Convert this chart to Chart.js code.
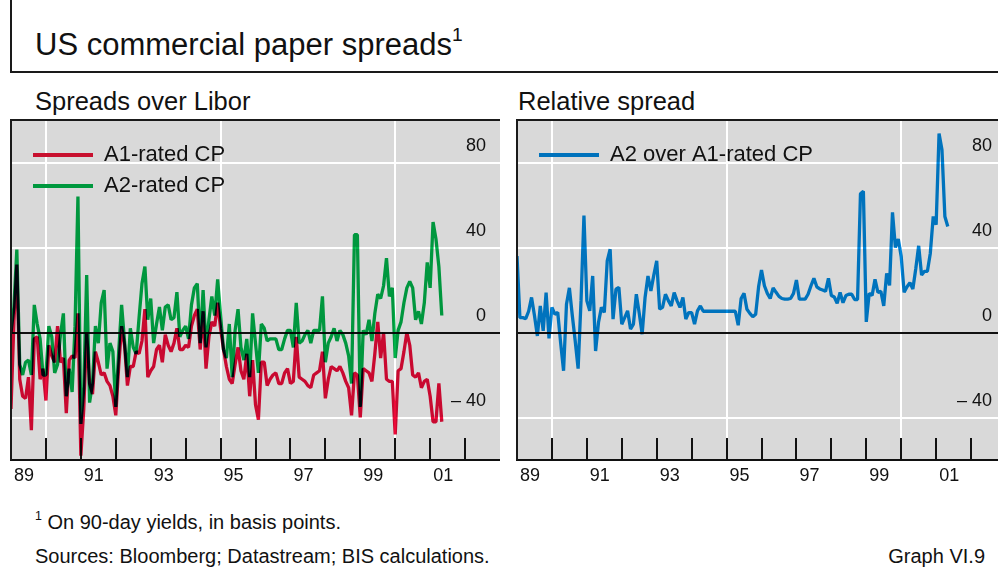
<!DOCTYPE html>
<html lang="en">
<head>
<meta charset="utf-8">
<title>US commercial paper spreads</title>
<script src="https://cdn.jsdelivr.net/npm/chart.js@4.4.1/dist/chart.umd.min.js"></script>
<style>
  html, body { margin: 0; padding: 0; background: #fff; }
  body { position: relative; width: 998px; height: 572px; overflow: hidden;
         font-family: "Liberation Sans", Arial, sans-serif; color: #111; }
  .txt { position: absolute; white-space: nowrap; line-height: 1; }
  .rule { position: absolute; background: #1a1a1a; }
  canvas { position: absolute; }
  sup { font-size: 62%; vertical-align: 0; position: relative; top: -0.75em; }
</style>
</head>
<body>
<div class="rule" style="left:10px;top:0;width:2px;height:73px"></div>
<div class="rule" style="left:10px;top:71px;width:988px;height:2px"></div>
<div class="txt" style="left:35px;top:29px;font-size:31px">US commercial paper spreads<sup>1</sup></div>
<div class="txt" style="left:35px;top:89px;font-size:25.5px">Spreads over Libor</div>
<div class="txt" style="left:518px;top:89px;font-size:25.5px">Relative spread</div>
<canvas id="spreads" width="490" height="371" style="left:10px;top:119px"></canvas>
<canvas id="relative" width="490" height="371" style="left:516px;top:119px"></canvas>
<div class="txt" style="left:35px;top:512px;font-size:20px"><sup>1</sup> On 90-day yields, in basis points.</div>
<div class="txt" style="left:35px;top:546px;font-size:20px">Sources: Bloomberg; Datastream; BIS calculations.</div>
<div class="txt" style="right:13px;top:546px;font-size:20px">Graph VI.9</div>

<script>
// Monthly observations, January 1989 to May 2001, basis points
const a1RatedCP = [
  -36, 5, 32, -22, -30, -31, -21, -46, -3, -2,
  -22, -17, -32, -6, -11, -14, 3, -14, -12, -38,
  -13, -11, -12, 9, -58, -36, 0, -24, -29, -9,
  -14, -20, -19, -23, -25, -30, -39, -16, 3, -6,
  -25, -16, -16, -9, -10, -4, 11, -21, -18, -16,
  -8, -6, -14, -1, -6, -9, -5, 2, -8, -8,
  -6, -7, 3, 8, 11, -8, 10, -17, -2, 5,
  3, 14, 2, -8, -16, -22, -24, -15, -7, -18,
  -22, -10, -30, -13, -34, -41, -14, -14, -25, -22,
  -20, -19, -24, -24, -19, -17, -24, -23, -2, -21,
  -22, -23, -25, -26, -20, -19, -18, -9, -31, -22,
  -16, -17, -18, -16, -19, -23, -26, -39, -19, -20,
  -40, -17, -18, -19, -23, -10, 5, -12, 0, -22,
  -23, -23, -48, -18, -17, -9, 0, -6, -20, -21,
  -19, -26, -23, -22, -30, -42, -42, -24, -42
];
const a2RatedCP = [
  0, 12, 39, -15, -20, -14, -13, -20, 13, 4,
  -3, -20, -20, 3, -2, -19, -15, -1, 9, -30,
  -17, -28, 3, 64, -43, -26, 27, -33, -24, 3,
  -5, 14, 20, -17, -5, -9, -35, -9, 13, -4,
  -21, 2, -7, -10, 7, 23, 31, 6, 16, -5,
  4, 12, 1, 12, 13, 6, 7, 19, -2, 1,
  3, -3, 13, 21, 23, -5, 20, -7, 6, 17,
  8, 25, 8, -8, -12, 4, -21, 1, 11, -7,
  -13, -3, -21, 9, -5, -19, 4, 2, -4, -3,
  -3, -3, -8, -8, -3, 1, 1, -7, 14, -5,
  -4, -1, 1, -5, 1, 1, 1, 17, -14, -5,
  -2, 2, -4, 1, -1, -5, -11, -24, 46, 46,
  -35, 1, -1, 6, -4, 9, 18, 16, 22, 35,
  17, 21, -12, 1, 5, 14, 21, 24, 21, 6,
  10, 4, 14, 33, 21, 52, 44, 31, 8
];
const a2OverA1 = [
  36, 7, 7, 6.5, 10, 16.5, 8, -1.6, 12.5, 0.8,
  18.8, -2.8, 11.8, 8.6, 9.4, -5, -18, 13.3, 21, 8,
  -4, -17, 15, 55, 14.9, 10.2, 26.6, -8.7, 4.7, 11.8,
  9.4, 33.7, 39.2, 6.3, 20.4, 21.2, 3.9, 7, 10.2, 1.6,
  3.9, 18, 9, -0.8, 16.5, 26.6, 19.6, 27, 33.7, 11,
  11.8, 18, 15, 12.5, 18.8, 14.9, 11.8, 16.5, 6.3, 9.4,
  9.4, 3.9, 10.2, 12.5, 10, 10, 10, 10, 10, 10,
  10, 10, 10, 10, 10, 10, 3.4, 16, 18.4, 10.9,
  9, 7.4, 8.6, 21.5, 29.4, 22, 18.4, 16, 21, 18.9,
  17, 16, 15.7, 15.7, 16, 18.4, 24.7, 15.7, 15.7, 15.7,
  18, 22, 25.5, 21.5, 20.5, 20, 19.4, 25.5, 17.4, 16.7,
  13.7, 18.9, 14, 17.4, 18, 18, 15.5, 15.5, 65.3, 66.4,
  5, 18.4, 17.4, 25, 18.9, 19.4, 12.5, 27.8, 22.2, 56.5,
  40, 44, 35.7, 18.9, 21.5, 23.4, 20.5, 30, 40.8, 27,
  28.8, 28.8, 37.3, 54.6, 50.7, 93.6, 86, 54.6, 49.9
];

// Axis definitions
const firstYear = 1989;
const lastYear = 2003;
const yTicks = [-40, 0, 40, 80];
const labelYears = [1989, 1991, 1993, 1995, 1997, 1999, 2001];
const gridYears = [1990, 1995, 2000];

// Month positions on a decimal-year axis
const months = a1RatedCP.map((_, i) => firstYear + i / 12);

const FONT = '"Liberation Sans", Arial, sans-serif';
const PANEL_GREY = '#d9d9d9';
const INK = '#111';
const PLOT_HEIGHT = 340;   // canvas height minus the time-axis band and top inset
const YEAR_TICK = 22;
// Year gridlines of the tick axis only show their lowest stretch
const TICK_DASH = [0, PLOT_HEIGHT - YEAR_TICK, YEAR_TICK, 4000];

// Position of a year along the plotting field, as a share of its width
function yearShare(year) {
  return (year - firstYear) / (lastYear - firstYear);
}

function drawYearTicks(chart) {
  const { ctx, chartArea: a } = chart;
  const w = a.right - a.left;
  ctx.save();
  ctx.strokeStyle = '#1a1a1a';
  ctx.lineWidth = 2;
  ctx.setLineDash([]);
  ctx.beginPath();
  for (let year = firstYear + 1; year < lastYear; year++) {
    const px = Math.round(a.left + yearShare(year) * w);
    ctx.moveTo(px, a.bottom);
    ctx.lineTo(px, a.bottom - YEAR_TICK);
  }
  ctx.stroke();
  ctx.restore();
}

// Grey plotting field with dark rules on the left and top
const panelBox = {
  id: 'panelBox',
  beforeDraw(chart) {
    const { ctx, chartArea: a } = chart;
    ctx.save();
    ctx.fillStyle = PANEL_GREY;
    ctx.fillRect(a.left, a.top, a.right - a.left, a.bottom - a.top);
    ctx.restore();
  },
  afterDraw(chart) {
    if (chart.$yearTicksByHand) drawYearTicks(chart);
    const { ctx, chartArea: a } = chart;
    ctx.save();
    ctx.strokeStyle = '#1a1a1a';
    ctx.lineWidth = 2;
    ctx.setLineDash([]);
    ctx.beginPath();
    ctx.moveTo(a.left, a.bottom);
    ctx.lineTo(a.left, a.top);
    ctx.lineTo(a.right + 2, a.top);
    ctx.stroke();
    ctx.restore();
  }
};

// Lines are overprinted, so crossings darken
const overprint = {
  id: 'overprint',
  beforeDatasetsDraw(chart) {
    chart.ctx.save();
    chart.ctx.globalCompositeOperation = 'multiply';
  },
  afterDatasetsDraw(chart) {
    chart.ctx.restore();
  }
};

// Legend sits inside the plotting field, a little in from its corner
const legendInset = {
  id: 'legendInset',
  afterLayout(chart) {
    const lg = chart.legend;
    if (!lg) return;
    lg.left += 13;
    lg.top += 16;
  }
};

function panelOptions() {
  return {
    responsive: false,
    animation: false,
    devicePixelRatio: 1,
    layout: { padding: { left: 1, top: 1, right: 0, bottom: 0 } },
    plugins: {
      legend: {
        position: 'chartArea',
        align: 'start',
        labels: {
          boxWidth: 60,
          boxHeight: 4,
          padding: 9,
          color: INK,
          font: { family: FONT, size: 22 },
          generateLabels(chart) {
            return chart.data.datasets.map((ds, i) => ({
              text: ds.label,
              fillStyle: ds.legendColor,
              strokeStyle: ds.legendColor,
              lineWidth: 0,
              hidden: false,
              datasetIndex: i,
              fontColor: INK
            }));
          }
        }
      },
      tooltip: { enabled: false }
    },
    scales: {
      x: {
        type: 'linear',
        position: 'bottom',
        min: firstYear,
        max: lastYear,
        afterFit(s) { s.height = 30; s.paddingLeft = 0; s.paddingRight = 0; },
        ticks: {
          stepSize: 1,
          autoSkip: false,
          maxRotation: 0,
          minRotation: 0,
          align: 'start',
          labelOffset: 3,
          padding: 5,
          color: INK,
          font: { family: FONT, size: 18 },
          callback(v) { return labelYears.includes(v) ? String(v).slice(2) : ''; }
        },
        grid: {
          color: c => (c.tick && gridYears.includes(c.tick.value)) ? '#ffffff' : 'rgba(0,0,0,0)',
          lineWidth: 2,
          drawTicks: false,
          z: -2
        },
        border: { display: true, color: INK, width: 2 }
      },
      // Short year ticks rising from the time axis
      yearTicks: {
        type: 'linear',
        position: 'bottom',
        min: firstYear,
        max: lastYear,
        afterFit(s) { s.height = 0; s.paddingLeft = 0; s.paddingRight = 0; },
        ticks: { display: false, stepSize: 1, autoSkip: false },
        grid: {
          color: c => (c.tick && c.tick.value > firstYear && c.tick.value < lastYear) ? INK : 'rgba(0,0,0,0)',
          lineWidth: 2,
          drawTicks: false,
          z: -1
        },
        border: { display: false, dash: TICK_DASH, dashOffset: 0 }
      },
      y: {
        type: 'linear',
        position: 'right',
        min: -60,
        max: 100,
        afterBuildTicks(s) { s.ticks = yTicks.map(v => ({ value: v })); },
        afterFit(s) { s.width = 0; s.paddingTop = 0; s.paddingBottom = 0; },
        ticks: {
          mirror: true,
          padding: -14,
          labelOffset: -16,
          color: INK,
          font: { family: FONT, size: 18 },
          callback: v => (v < 0 ? '\u2013 ' + Math.abs(v) : String(v))
        },
        grid: {
          color: c => (c.tick && c.tick.value === 0) ? INK : '#ffffff',
          lineWidth: 2,
          drawTicks: false
        },
        border: { display: false }
      }
    }
  };
}

function lineSet(label, values, drawColor, legendColor) {
  return {
    label,
    data: values,
    xAxisID: 'x',
    yAxisID: 'y',
    borderColor: drawColor,
    backgroundColor: drawColor,
    legendColor,
    borderWidth: 3.3,
    pointRadius: 0,
    tension: 0,
    borderJoinStyle: 'bevel',
    fill: false
  };
}

// If the dashed tick gridlines come out solid near the top of the field,
// hide them and draw the ticks by hand instead
function settleYearTicks(chart) {
  const a = chart.chartArea;
  const px = Math.round(a.left + yearShare(firstYear + 2) * (a.right - a.left));
  const d = chart.ctx.getImageData(px, Math.round(a.top + 8), 1, 1).data;
  if (d[3] > 200 && d[0] < 100 && d[1] < 100 && d[2] < 100) {
    chart.options.scales.yearTicks.grid.display = false;
    chart.$yearTicksByHand = true;
    chart.update();
  }
}

const spreadsChart = new Chart(document.getElementById('spreads'), {
  type: 'line',
  data: {
    labels: months,
    datasets: [
      lineSet('A1-rated CP', a1RatedCP, 'rgb(236,10,56)', 'rgb(200,16,46)'),
      lineSet('A2-rated CP', a2RatedCP, 'rgb(0,178,72)', 'rgb(0,152,62)')
    ]
  },
  options: panelOptions(),
  plugins: [panelBox, overprint, legendInset]
});

const relativeChart = new Chart(document.getElementById('relative'), {
  type: 'line',
  data: {
    labels: months,
    datasets: [
      lineSet('A2 over A1-rated CP', a2OverA1, 'rgb(0,135,222)', 'rgb(0,114,188)')
    ]
  },
  options: panelOptions(),
  plugins: [panelBox, overprint, legendInset]
});

settleYearTicks(spreadsChart);
settleYearTicks(relativeChart);
</script>
</body>
</html>
